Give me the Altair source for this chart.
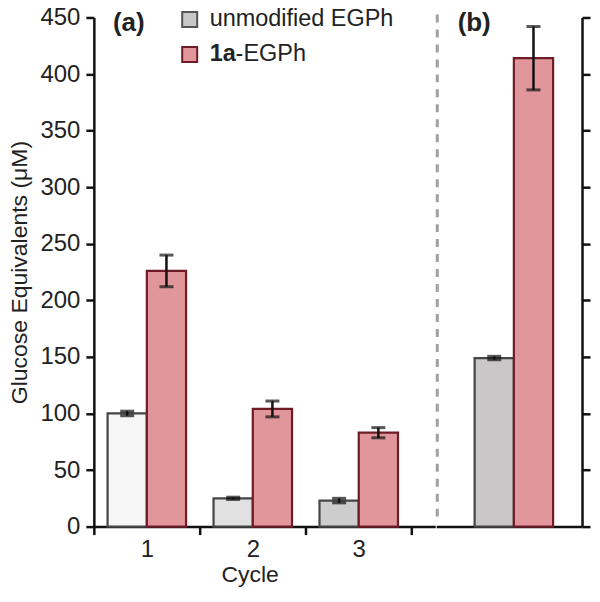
import altair as alt
import pandas as pd

# ---- data ----
cycles = ["1", "2", "3"]
unmod_vals = [100, 25, 23]
unmod_errs = [2, 1, 2]
mod_vals = [226, 104, 83]
mod_errs = [14, 7, 4.5]

panel_b_cat = ["b"]
unmod_b_vals = [149]
unmod_b_errs = [1.5]
mod_b_vals = [414]
mod_b_errs = [28]

series = ["unmod", "mod"]
y_ticks = [0, 50, 100, 150, 200, 250, 300, 350, 400, 450]

# ---- styles ----
gray_fills = ["#f6f6f6", "#e1e1e1", "#cdcdcd", "#c9c7c7"]
red_fill = "#e0969b"
red_stroke = "#6e1d27"
gray_stroke = "#454545"
FONT = "Liberation Sans"


def build(cats, uv, ue, mv, me):
    rows = []
    for i, c in enumerate(cats):
        rows.append(dict(cycle=c, series="unmod", value=uv[i], lo=uv[i] - ue[i],
                         hi=uv[i] + ue[i], key=f"{c}-unmod"))
        rows.append(dict(cycle=c, series="mod", value=mv[i], lo=mv[i] - me[i],
                         hi=mv[i] + me[i], key=f"{c}-mod"))
    return pd.DataFrame(rows)


df_a = build(cycles, unmod_vals, unmod_errs, mod_vals, mod_errs)
df_b = build(panel_b_cat, unmod_b_vals, unmod_b_errs, mod_b_vals, mod_b_errs)

# one shared fill mapping for every bar (keys of both panels)
all_keys = list(df_a["key"]) + list(df_b["key"])
all_fills = []
gi = 0
for k in all_keys:
    if k.endswith("-unmod"):
        all_fills.append(gray_fills[gi]); gi += 1
    else:
        all_fills.append(red_fill)

yscale = alt.Scale(domain=[0, 450], nice=False, zero=True)
xoff = alt.XOffset("series:N", scale=alt.Scale(domain=series, paddingInner=0, paddingOuter=0.35))
stroke_enc = alt.Stroke("series:N", scale=alt.Scale(domain=series, range=[gray_stroke, red_stroke]), legend=None)
fill_enc = alt.Fill("key:N", scale=alt.Scale(domain=all_keys, range=all_fills), legend=None)


def panel(df, cats, xscale, xaxis, yaxis):
    base = alt.Chart(df)
    x = alt.X("cycle:N", scale=xscale, axis=xaxis, sort=cats)
    bars = base.mark_bar(strokeWidth=2.2).encode(
        x=x,
        xOffset=xoff,
        y=alt.Y("value:Q", scale=yscale, axis=yaxis),
        fill=fill_enc,
        stroke=stroke_enc,
    )
    rule = base.mark_rule(color="#111", strokeWidth=2.5).encode(
        x=x, xOffset=xoff, y=alt.Y("lo:Q", scale=yscale), y2="hi:Q")
    cap_lo = base.mark_tick(color="#111", thickness=3, size=14, orient="horizontal").encode(
        x=x, xOffset=xoff, y=alt.Y("lo:Q", scale=yscale))
    cap_hi = base.mark_tick(color="#111", thickness=3, size=14, orient="horizontal").encode(
        x=x, xOffset=xoff, y=alt.Y("hi:Q", scale=yscale))
    return bars + rule + cap_lo + cap_hi


PLOT_H = 510
W_A = 342
W_B = 146

# Panel (a)
xscale_a = alt.Scale(domain=cycles, paddingInner=0, paddingOuter=0.1111, align=0)
xaxis_a = alt.Axis(title="Cycle", labelAngle=0, tickBand="extent", labelPadding=3,
                   titlePadding=2, titleX=156, tickSize=8)
yaxis_a = alt.Axis(values=y_ticks, title="Glucose Equivalents (μM)", grid=False,
                   labelPadding=6, titlePadding=8, tickSize=8)
pa = panel(df_a, cycles, xscale_a, xaxis_a, yaxis_a)

legend_df = pd.DataFrame({"dummy": [0]})
LEG_FS = 23.5
lab_a = alt.Chart(legend_df).mark_text(text="(a)", font=FONT, fontSize=26, fontWeight="bold",
                                       color="#222", align="center", baseline="middle").encode(
    x=alt.value(35), y=alt.value(6))
sq1 = alt.Chart(legend_df).mark_square(size=225, fill="#c8c8c8", stroke="#555", strokeWidth=2,
                                       opacity=1).encode(x=alt.value(96), y=alt.value(2))
sq2 = alt.Chart(legend_df).mark_square(size=225, fill=red_fill, stroke=red_stroke, strokeWidth=2,
                                       opacity=1).encode(x=alt.value(96), y=alt.value(37))
t1 = alt.Chart(legend_df).mark_text(text="unmodified EGPh", font=FONT, fontSize=LEG_FS, color="#222",
                                    align="left", baseline="middle").encode(
    x=alt.value(116), y=alt.value(2))
t2a = alt.Chart(legend_df).mark_text(text="1a", font=FONT, fontSize=LEG_FS, fontWeight="bold",
                                     color="#222", align="left", baseline="middle").encode(
    x=alt.value(116), y=alt.value(37))
t2b = alt.Chart(legend_df).mark_text(text="-EGPh", font=FONT, fontSize=LEG_FS, color="#222",
                                     align="left", baseline="middle").encode(
    x=alt.value(142), y=alt.value(37))

panel_a = (pa + lab_a + sq1 + sq2 + t1 + t2a + t2b).properties(width=W_A, height=PLOT_H)

# Panel (b)
xscale_b = alt.Scale(domain=panel_b_cat, paddingInner=0, paddingOuter=0.1852, align=0.625)
xaxis_b = alt.Axis(title=None, labels=False, ticks=False, domain=True)
yaxis_b = alt.Axis(values=y_ticks, orient="right", labels=False, title=None, grid=False, tickSize=8)
pb = panel(df_b, panel_b_cat, xscale_b, xaxis_b, yaxis_b)
dash = alt.Chart(legend_df).mark_rule(color="#a0a0a0", strokeWidth=3, strokeDash=[8, 7]).encode(
    x=alt.value(1), y=alt.value(-3), y2=alt.value(502))
lab_b = alt.Chart(legend_df).mark_text(text="(b)", font=FONT, fontSize=26, fontWeight="bold",
                                       color="#222", align="center", baseline="middle").encode(
    x=alt.value(38), y=alt.value(6))
panel_b = (pb + dash + lab_b).properties(width=W_B, height=PLOT_H)

chart = alt.hconcat(panel_a, panel_b, spacing=0).properties(
    padding={"left": 0, "top": -3, "right": 0, "bottom": 0}
).configure_view(stroke=None).configure_axis(
    domainColor="#111", domainWidth=2.5, tickColor="#111", tickWidth=2.5,
    labelFont=FONT, labelFontSize=24, labelColor="#222",
    titleFont=FONT, titleFontSize=23, titleColor="#222", titleFontWeight="normal",
)

chart.save("out.html", embed_options={"renderer": "svg", "actions": False})
